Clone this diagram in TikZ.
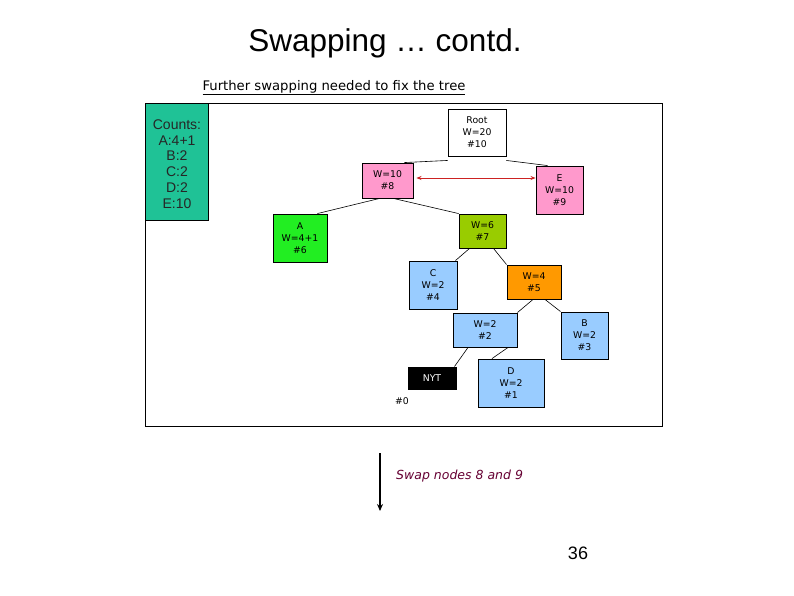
\documentclass[tikz,border=0pt]{standalone}
\usepackage{fontspec}
\setmainfont{Liberation Sans}
\newfontfamily\comic{DejaVu Sans}
\usetikzlibrary{arrows.meta}
\definecolor{teal1}{HTML}{1FC296}
\definecolor{pinkn}{HTML}{FF99CC}
\definecolor{greenA}{HTML}{22EE22}
\definecolor{olive}{HTML}{99CC00}
\definecolor{lblue}{HTML}{99CCFF}
\definecolor{orangen}{HTML}{FF9900}
\definecolor{redarr}{HTML}{CC2222}
\definecolor{maroon}{HTML}{660033}
\tikzset{
  tnode/.style={draw=black, line width=0.9pt, align=center, inner sep=0pt,
    font=\comic\fontsize{9.3}{12}\selectfont},
  edge/.style={draw=black, line width=0.6pt}
}
\begin{document}
\begin{tikzpicture}[x=1pt,y=-1pt]
\useasboundingbox (0,0) rectangle (794,595);
\fill[white] (0,0) rectangle (794,595);
% title
\node[font=\fontsize{31.5}{34}\selectfont, anchor=base, inner sep=0pt] (title) at (385,51) {Swapping … contd.};
\node[font=\comic\fontsize{13.2}{15}\selectfont, anchor=base, inner sep=0pt] (sub) at (334,90) {\underline{Further swapping needed to fix the tree}};
% frame
\draw[line width=0.8pt] (145,103) rectangle (662,426);
\node[draw=black, line width=0.9pt, fill=teal1, minimum width=63pt, minimum height=117pt, anchor=north west, inner sep=0pt] (counts) at (145,103) {};
\node[align=center, font=\fontsize{14}{15.8}\selectfont, color=black!85, anchor=north] (ctext) at (177,116) {Counts:\\A:4+1\\B:2\\C:2\\D:2\\E:10};
% tree nodes
\node[tnode, fill=white, minimum width=58pt, minimum height=47pt] (root) at (477,132.5) {Root\\W=20\\\#10};
\node[tnode, fill=pinkn, minimum width=51pt, minimum height=35pt] (n8) at (387.5,180.5) {W=10\\\#8};
\node[tnode, fill=pinkn, minimum width=47pt, minimum height=48pt] (n9) at (559.5,190) {E\\W=10\\\#9};
\node[tnode, fill=greenA, minimum width=54pt, minimum height=48pt] (n6) at (300,238) {A\\W=4+1\\\#6};
\node[tnode, fill=olive, minimum width=47pt, minimum height=34pt] (n7) at (482.5,231) {W=6\\\#7};
\node[tnode, fill=lblue, minimum width=48pt, minimum height=48pt] (n4) at (433,285) {C\\W=2\\\#4};
\node[tnode, fill=orangen, minimum width=54pt, minimum height=34pt] (n5) at (534,282) {W=4\\\#5};
\node[tnode, fill=lblue, minimum width=64pt, minimum height=34pt] (n2) at (485,330) {W=2\\\#2};
\node[tnode, fill=lblue, minimum width=47pt, minimum height=47pt] (n3) at (584.5,335.5) {B\\W=2\\\#3};
\node[tnode, fill=black, text=white, minimum width=48pt, minimum height=22pt] (nyt) at (432,378) {NYT};
\node[tnode, fill=lblue, minimum width=66pt, minimum height=48pt] (n1) at (511,383) {D\\W=2\\\#1};
\node[font=\comic\fontsize{9.3}{12}\selectfont, inner sep=0pt] (n0) at (402,401) {\#0};
% edges
\draw[edge] ([yshift=-4pt]root.south west) -- ([xshift=-9pt]n8.north east);
\draw[edge] ([yshift=-4pt]root.south east) -- ([xshift=-12pt]n9.north);
\draw[edge] ([xshift=-8pt]n8.south) -- ([xshift=-10pt]n6.north east);
\draw[edge] ([xshift=6pt]n8.south) -- (n7.north west);
\draw[edge] ([xshift=-13pt]n7.south) -- ([xshift=-2pt]n4.north east);
\draw[edge] ([xshift=11pt]n7.south) -- ([yshift=0pt]n5.north west);
\draw[edge] ([xshift=-1pt]n5.south) -- ([xshift=0pt]n2.north east);
\draw[edge] ([xshift=11pt]n5.south) -- (n3.north west);
\draw[edge] ([xshift=-17pt]n2.south) -- ([xshift=-2pt]nyt.north east);
\draw[edge] ([xshift=23pt]n2.south) -- ([xshift=-19pt]n1.north);
% swap arrow
\draw[redarr, line width=0.9pt, {Stealth[length=5pt,width=4pt]}-{Stealth[length=5pt,width=4pt]}] ([xshift=3pt]n8.east |- 0,178) coordinate (aL) -- (n9.west |- 0,178) coordinate (aR);
% down arrow
\coordinate (dtop) at (380,453);
\coordinate (dbot) at (380,511);
\draw[line width=2.2pt, -{Stealth[length=7pt,width=6pt]}] (dtop) -- (dbot);
\node[font=\comic\itshape\fontsize{12.5}{14}\selectfont, color=maroon, anchor=base west, inner sep=0pt] (swap) at (396,479) {Swap nodes 8 and 9};
\node[font=\fontsize{18}{20}\selectfont, anchor=base] (pg) at (578,559) {36};
\end{tikzpicture}
\end{document}
